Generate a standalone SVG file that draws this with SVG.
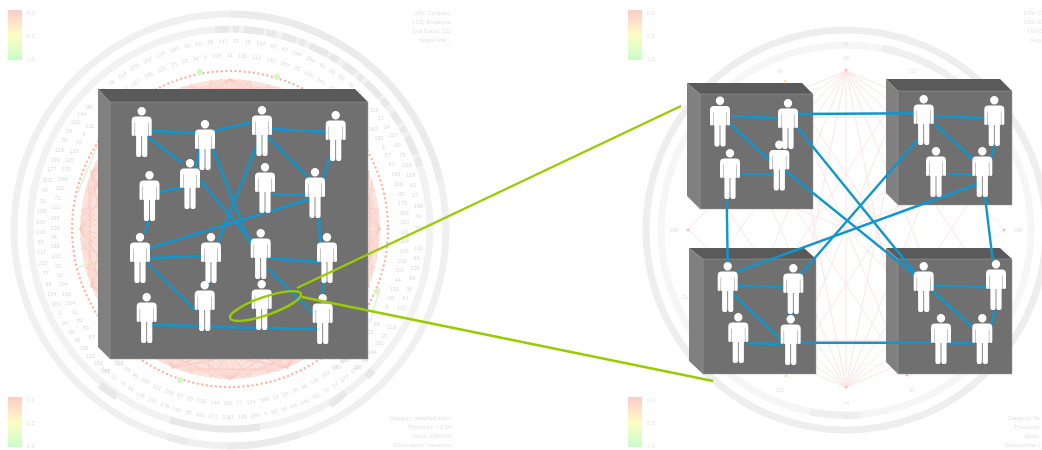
<svg xmlns="http://www.w3.org/2000/svg" width="1042" height="450" viewBox="0 0 1042 450">
<style>
.t{font-family:"Liberation Sans",Arial,sans-serif;font-size:5.5px;fill:#e2e2e2}
.n{font-family:"Liberation Sans",Arial,sans-serif;font-size:5.5px;fill:#dadada;text-anchor:middle}
.s{font-family:"Liberation Sans",Arial,sans-serif;font-size:16.5px;fill:#dadada;text-anchor:middle;dominant-baseline:central}
.top{fill:#5a5a5a}.left{fill:#808080}.front{fill:#707070;stroke:#9a9a9a;stroke-width:.5}
.c line{stroke:#0f96d0;stroke-width:2.4}
.g{fill:none;stroke:#99cc00;stroke-width:2.4}
.p{fill:#fff}
.ch{fill:none;stroke:#fac6bd;stroke-width:.55}
.ch2{fill:none;stroke:#fde6e3;stroke-width:1}
</style>
<defs>
<linearGradient id="lg" x1="0" y1="0" x2="0" y2="1"><stop offset="0" stop-color="#fdcaca"/><stop offset=".5" stop-color="#fffcc4"/><stop offset="1" stop-color="#c9fdc9"/></linearGradient>
<filter id="b1" x="-5%" y="-5%" width="110%" height="110%"><feGaussianBlur stdDeviation=".45"/></filter>
<filter id="b2" x="-5%" y="-5%" width="110%" height="110%"><feGaussianBlur stdDeviation=".3"/></filter>
<path id="a1" d="M44 229A186 186 0 0 1 416 229"/>
<path id="a2" d="M58 229A172 172 0 0 1 402 229"/>
<path id="a3" d="M40 229A190 190 0 0 0 420 229"/>
<path id="a4" d="M54 229A176 176 0 0 0 406 229"/>
<g id="fan">
<path class="ch" d="M230 79L80 229M230 79L100 304M230 79L155 359M230 79L305 359M230 79L360 304M230 79L380 229M230 79L330 117M230 79L130 117M230 79L90 172M230 79L370 172"/>
</g>
<path id="person" class="p" d="M-6 9.5H6Q10 9.500 10 13.500V27.500a1.500 1.500 0 0 1-3 0V15.500H6.600V29H5.600V47.500a2.600 2.600 0 0 1-5.200 0V29H-.4V47.500a2.600 2.600 0 0 1-5.200 0V29H-6.600V15.500H-7V27.500a1.500 1.500 0 0 1-3 0V13.500Q-10 9.500-6 9.500ZM4.200 4.200a4.200 4.200 0 1 1-8.400 0a4.200 4.200 0 1 1 8.400 0Z"/>
</defs>
<rect width="1042" height="450" fill="#fff"/>
<g id="chart-left" filter="url(#b1)">
<circle cx="230" cy="230" r="216" fill="none" stroke="#f0f0f0" stroke-width="7"/>
<circle cx="230" cy="229" r="200" fill="none" stroke="#f2f2f2" stroke-width="7"/>
<path d="M215 29.500A200 200 0 0 1 420 167" fill="none" stroke="#e9e9e9" stroke-width="7" stroke-dasharray="14 4 6 5 20 3 9 7"/>
<path d="M230 14A216 216 0 0 1 440 180" fill="none" stroke="#ebebeb" stroke-width="7"/>
<path d="M100 385A203 203 0 0 0 117 397M170 420A200 200 0 0 0 260 427M330 405A200 200 0 0 0 345 393M367 377A202 202 0 0 0 373 370" fill="none" stroke="#e8e8e8" stroke-width="7"/>
<path d="M167 436.600A216 216 0 0 0 187 441.700M227 446A216 216 0 0 0 300 434" fill="none" stroke="#ebebeb" stroke-width="7"/>
<circle cx="230" cy="229" r="150" fill="#fde3dd"/>
<use href="#fan"/><use href="#fan" transform="rotate(22.5 230 229)"/><use href="#fan" transform="rotate(45 230 229)"/><use href="#fan" transform="rotate(67.5 230 229)"/><use href="#fan" transform="rotate(90 230 229)"/><use href="#fan" transform="rotate(112.5 230 229)"/><use href="#fan" transform="rotate(135 230 229)"/><use href="#fan" transform="rotate(157.5 230 229)"/><use href="#fan" transform="rotate(180 230 229)"/><use href="#fan" transform="rotate(202.5 230 229)"/><use href="#fan" transform="rotate(225 230 229)"/><use href="#fan" transform="rotate(247.5 230 229)"/><use href="#fan" transform="rotate(270 230 229)"/><use href="#fan" transform="rotate(292.5 230 229)"/><use href="#fan" transform="rotate(315 230 229)"/><use href="#fan" transform="rotate(337.5 230 229)"/>
<circle cx="230" cy="229" r="158" fill="none" stroke="#f9b5a2" stroke-width="2.4" stroke-linecap="round" stroke-dasharray="0 4.6"/>
<path d="M78 192L97 147M78 268L98 258M370 322L380 288" fill="none" stroke="#d6f5c8" stroke-width="1.2"/>
<circle cx="200" cy="72" r="3" fill="#d8f5c4"/><circle cx="277" cy="77" r="3" fill="#d8f5c4"/><circle cx="180" cy="380" r="3" fill="#d8f5c4"/><circle cx="377" cy="292" r="3" fill="#d8f5c4"/>
<text class="n" word-spacing="3.8"><textPath href="#a1" startOffset="50%">102 78 214 173 152 126 103 65 50 16 147 67 18 187 69 43 144 184 46 26 92 39 29</textPath></text>
<text class="n" word-spacing="3.6"><textPath href="#a2" startOffset="50%">81 4 183 157 136 121 75 53 34 4 109 21 136 112 142 209 25 125 141 27 54 107</textPath></text>
<text class="n" word-spacing="2.6"><textPath href="#a3" startOffset="50%">147 12 74 86 115 132 178 191 99 100 171 2287 184 190 5 30 39 64 146 151 70 27 122 104</textPath></text>
<text class="n" word-spacing="2.6"><textPath href="#a4" startOffset="50%">162 69 96 107 131 158 87 20 125 140 196 77 174 189 13 93 78 85 149 102 25 59</textPath></text>
<g transform="scale(.33333)">
<text class="s" x="267" y="320">90</text><text class="s" x="245" y="342">144</text><text class="s" x="227" y="366">221</text><text class="s" x="270" y="378">211</text><text class="s" x="208" y="393">26</text><text class="s" x="252" y="402">8</text><text class="s" x="193" y="420">76</text><text class="s" x="237" y="427">43</text><text class="s" x="178" y="450">119</text><text class="s" x="222" y="453">110</text><text class="s" x="165" y="480">139</text><text class="s" x="208" y="480">120</text><text class="s" x="155" y="507">177</text><text class="s" x="198" y="507">175</text><text class="s" x="143" y="540">202</text><text class="s" x="188" y="537">196</text><text class="s" x="135" y="570">40</text><text class="s" x="180" y="565">203</text><text class="s" x="130" y="602">91</text><text class="s" x="173" y="595">72</text><text class="s" x="125" y="633">106</text><text class="s" x="168" y="622">101</text><text class="s" x="122" y="665">165</text><text class="s" x="165" y="653">163</text>
<text class="s" x="1122" y="330">124</text><text class="s" x="1142" y="354">31</text><text class="s" x="1160" y="380">14</text><text class="s" x="1120" y="388">167</text><text class="s" x="1180" y="405">127</text><text class="s" x="1137" y="413">182</text><text class="s" x="1193" y="435">90</text><text class="s" x="1150" y="440">3</text><text class="s" x="1163" y="466">57</text><text class="s" x="1207" y="465">79</text><text class="s" x="1175" y="493">47</text><text class="s" x="1220" y="495">213</text><text class="s" x="1187" y="522">169</text><text class="s" x="1232" y="525">129</text><text class="s" x="1195" y="552">109</text><text class="s" x="1240" y="555">62</text><text class="s" x="1203" y="582">45</text><text class="s" x="1245" y="585">17</text><text class="s" x="1208" y="608">179</text><text class="s" x="1255" y="617">168</text><text class="s" x="1213" y="638">183</text><text class="s" x="1255" y="648">49</text><text class="s" x="1215" y="667">110</text>
</g>
<g transform="translate(0 225) scale(.33333)">
<text class="s" x="122" y="20">216</text><text class="s" x="165" y="8">206</text><text class="s" x="122" y="52">95</text><text class="s" x="163" y="35">41</text><text class="s" x="125" y="82">217</text><text class="s" x="165" y="63">166</text><text class="s" x="130" y="115">223</text><text class="s" x="170" y="93">220</text><text class="s" x="137" y="145">77</text><text class="s" x="175" y="122">32</text><text class="s" x="145" y="177">99</text><text class="s" x="180" y="150">82</text><text class="s" x="155" y="207">114</text><text class="s" x="190" y="178">104</text><text class="s" x="168" y="237">300</text><text class="s" x="200" y="207">160</text><text class="s" x="180" y="263">1</text><text class="s" x="212" y="233">204</text><text class="s" x="195" y="293">24</text><text class="s" x="225" y="260">11</text><text class="s" x="213" y="320">58</text><text class="s" x="240" y="285">82</text><text class="s" x="232" y="346">46</text><text class="s" x="257" y="310">89</text><text class="s" x="252" y="368">108</text><text class="s" x="275" y="335">87</text><text class="s" x="272" y="393">118</text><text class="s" x="295" y="415">161</text><text class="s" x="318" y="438">205</text><text class="s" x="358" y="415">133</text>
<text class="s" x="1215" y="20">111</text><text class="s" x="1255" y="8">55</text><text class="s" x="1213" y="48">164</text><text class="s" x="1255" y="68">101</text><text class="s" x="1212" y="78">105</text><text class="s" x="1250" y="98">45</text><text class="s" x="1207" y="108">218</text><text class="s" x="1245" y="130">206</text><text class="s" x="1200" y="135">201</text><text class="s" x="1193" y="165">44</text><text class="s" x="1237" y="160">84</text><text class="s" x="1183" y="192">112</text><text class="s" x="1228" y="192">36</text><text class="s" x="1173" y="220">56</text><text class="s" x="1217" y="220">61</text><text class="s" x="1160" y="247">8</text><text class="s" x="1205" y="250">107</text><text class="s" x="1130" y="298">66</text><text class="s" x="1175" y="307">210</text><text class="s" x="1112" y="322">25</text><text class="s" x="1155" y="333">37</text><text class="s" x="1137" y="355">185</text><text class="s" x="1117" y="382">144</text><text class="s" x="1033" y="405">100</text><text class="s" x="1095" y="405">64</text><text class="s" x="1010" y="425">145</text><text class="s" x="1072" y="425">216</text>
</g>
<rect x="8" y="10" width="14" height="50" fill="url(#lg)"/><rect x="8" y="397" width="14" height="50" fill="url(#lg)"/>
<text class="t" x="27" y="15">0.0</text><text class="t" x="27" y="38">0.5</text><text class="t" x="27" y="61">1.0</text>
<text class="t" x="27" y="402">0.0</text><text class="t" x="27" y="425">0.5</text><text class="t" x="27" y="448">1.0</text>
<g text-anchor="end"><text class="t" x="451" y="15">LOV: Company</text><text class="t" x="451" y="24">LOS: Employee</text><text class="t" x="451" y="33">Unit Count: 221</text><text class="t" x="451" y="42">Single Link: -</text>
<text class="t" x="451" y="420">Category: weighted index</text><text class="t" x="451" y="429">Threshold: &gt; 0.04</text><text class="t" x="451" y="438">Value: 3269764</text><text class="t" x="451" y="447">Connections: maximum</text></g>
</g>
<g id="chart-right" filter="url(#b1)">
<circle cx="846" cy="230" r="200" fill="none" stroke="#eeeeee" stroke-width="7"/>
<circle cx="846" cy="230" r="185" fill="none" stroke="#f6f6f6" stroke-width="7"/>
<path d="M882 48A185 185 0 0 1 1000 128M810 412A185 185 0 0 0 860 415" fill="none" stroke="#efefef" stroke-width="7"/>
<path class="ch2" d="M846 71L906.5 375M846 71L957.7 340.7M846 71L992 289.500M846 71L1004 229M846 71L992 168.500M846 71L957.7 117.300M846 71L785.5 375M846 71L734.3 340.700M846 71L700 289.500M846 71L688 229M846 71L700 168.500M846 71L734.3 117.300M846 71V387M846 387L906.5 83M846 387L957.7 117.300M846 387L992 168.500M846 387L1004 229M846 387L992 289.500M846 387L957.7 340.700M846 387L785.5 83M846 387L734.3 117.300M846 387L700 168.500M846 387L688 229M846 387L700 289.500M846 387L734.3 340.700M700 168.500L992 289.500M700 289.500L992 168.500M734.3 117.300L957.7 340.700M734.3 340.700L957.700 117.300M785.5 83L906.5 375M785.5 375L906.5 83M734.3 117.300H957.700M734.3 340.700H957.700M785.5 83L957.7 340.700M906.5 83L734.3 340.700M785.5 375L957.7 117.300M906.5 375L734.3 117.300"/>
<circle cx="846" cy="70" r="1.5" fill="#fbb"/><circle cx="846" cy="387" r="1.5" fill="#fbb"/><circle cx="785" cy="81" r="1.5" fill="#fde3a8"/><circle cx="786" cy="376" r="1.5" fill="#fde3a8"/><circle cx="907" cy="375" r="1.5" fill="#fbb"/><circle cx="688" cy="230" r="1.5" fill="#fbb"/><circle cx="1004" cy="230" r="1.5" fill="#fbb"/>
<g class="t" text-anchor="middle"><text x="846" y="46">51</text><text x="846" y="60">15</text><text x="780" y="73">40</text><text x="912" y="73">215</text><text x="780" y="392">222</text><text x="912" y="392">91</text><text x="846" y="405">74</text><text x="846" y="419">33</text><text x="674" y="232">190</text><text x="1018" y="232">190</text><text x="685" y="299">21</text></g>
<rect x="628" y="10" width="14" height="50" fill="url(#lg)"/><rect x="628" y="397" width="14" height="50" fill="url(#lg)"/>
<text class="t" x="647" y="15">0.0</text><text class="t" x="647" y="38">0.5</text><text class="t" x="647" y="61">1.0</text>
<text class="t" x="647" y="402">0.0</text><text class="t" x="647" y="425">0.5</text><text class="t" x="647" y="448">1.0</text>
<text class="t" x="1024" y="15">LOV: C</text><text class="t" x="1024" y="24">LOS: E</text><text class="t" x="1028" y="33">Unit C</text><text class="t" x="1030" y="42">Sing</text>
<text class="t" x="1008" y="420">Category: Ne</text><text class="t" x="1014" y="429">Threshold:</text><text class="t" x="1024" y="438">Value:</text><text class="t" x="1005" y="447">Connections: r</text>
</g>
<g id="blocks" filter="url(#b2)">
<g id="block-main"><polygon class="top" points="98,89 355,89 368,102 110,102"/><polygon class="left" points="98,89 110,102 110,359 98,347"/><rect class="front" x="110" y="102" width="258" height="257"/></g>
<g id="block-a"><polygon class="top" points="687,83 802,83 813,94 700,94"/><polygon class="left" points="687,83 700,94 700,209 687,196"/><rect class="front" x="700" y="94" width="113" height="115"/></g>
<g id="block-b"><polygon class="top" points="886,79 1000,79 1012,91 898,91"/><polygon class="left" points="886,79 898,91 898,205 886,193"/><rect class="front" x="898" y="91" width="114" height="114"/></g>
<g id="block-c"><polygon class="top" points="689,248 804,248 816,259 703,259"/><polygon class="left" points="689,248 703,259 703,374 689,361"/><rect class="front" x="703" y="259" width="113" height="115"/></g>
<g id="block-d"><polygon class="top" points="886,248 1000,248 1012,259 898,259"/><polygon class="left" points="886,248 898,259 898,374 886,362"/><rect class="front" x="898" y="259" width="114" height="115"/></g>
</g>
<g id="connectors" class="c" filter="url(#b2)">
<line x1="152" y1="131" x2="197" y2="133"/><line x1="148" y1="137" x2="182" y2="163"/><line x1="200" y1="147" x2="195" y2="170"/><line x1="213" y1="131" x2="253" y2="122"/><line x1="272" y1="129" x2="327" y2="132"/><line x1="268" y1="137" x2="308" y2="177"/><line x1="330" y1="157" x2="323" y2="180"/><line x1="160" y1="192" x2="182" y2="187"/><line x1="272" y1="194" x2="307" y2="195"/><line x1="257" y1="145" x2="218" y2="242"/><line x1="213" y1="150" x2="250" y2="243"/><line x1="200" y1="180" x2="252" y2="242"/><line x1="310" y1="199" x2="150" y2="248"/><line x1="148" y1="221" x2="145" y2="233"/><line x1="319" y1="218" x2="320" y2="242"/><line x1="150" y1="258" x2="202" y2="256"/><line x1="147" y1="263" x2="195" y2="310"/><line x1="208" y1="280" x2="207" y2="288"/><line x1="267" y1="258" x2="320" y2="262"/><line x1="267" y1="268" x2="315" y2="315"/><line x1="323" y1="283" x2="322" y2="295"/><line x1="152" y1="325" x2="200" y2="326"/><line x1="210" y1="327" x2="320" y2="329"/>
<line x1="731" y1="116.300" x2="779" y2="118.300"/><line x1="730" y1="124" x2="770" y2="161"/><line x1="788" y1="133" x2="785" y2="150"/><line x1="740" y1="174.300" x2="773" y2="174.300"/><line x1="798" y1="114" x2="915" y2="113.300"/><line x1="934" y1="116" x2="985" y2="118.300"/><line x1="934" y1="123.300" x2="973" y2="159.300"/><line x1="995" y1="145" x2="990.7" y2="158.300"/><line x1="947" y1="174.300" x2="973" y2="174.300"/><line x1="797.7" y1="128" x2="916.7" y2="275"/><line x1="785.7" y1="171" x2="916" y2="276"/><line x1="919" y1="138.300" x2="800" y2="275"/><line x1="977.7" y1="184" x2="735" y2="272.300"/><line x1="726.7" y1="198" x2="727.7" y2="263"/><line x1="985" y1="196.700" x2="992.7" y2="260"/><line x1="738" y1="285.700" x2="785" y2="287.300"/><line x1="734" y1="295" x2="781.7" y2="340"/><line x1="794" y1="293" x2="792.7" y2="316"/><line x1="748" y1="343.300" x2="781.7" y2="344"/><line x1="799" y1="342.700" x2="931.7" y2="342.700"/><line x1="934" y1="285.700" x2="986.7" y2="287.300"/><line x1="933" y1="291" x2="973" y2="327.700"/><line x1="995" y1="309.300" x2="990.7" y2="326.700"/><line x1="948" y1="343.300" x2="973" y2="343.300"/>
</g>
<g id="people" filter="url(#b2)">
<g id="m1"><use href="#person" x="141.7" y="107"/></g><g id="m2"><use href="#person" x="205" y="120"/></g><g id="m3"><use href="#person" x="262" y="106"/></g><g id="m4"><use href="#person" x="335.7" y="111"/></g>
<g id="m5"><use href="#person" x="149.5" y="171"/></g><g id="m6"><use href="#person" x="190" y="159"/></g><g id="m7"><use href="#person" x="265" y="163"/></g><g id="m8"><use href="#person" x="315" y="168"/></g>
<g id="m9"><use href="#person" x="140" y="233"/></g><g id="m10"><use href="#person" x="211" y="233"/></g><g id="m11"><use href="#person" x="260.7" y="229"/></g><g id="m12"><use href="#person" x="327" y="233"/></g>
<g id="m13"><use href="#person" x="146.7" y="293"/></g><g id="m14"><use href="#person" x="204.7" y="281"/></g><g id="m15"><use href="#person" x="261.7" y="280"/></g><g id="m16"><use href="#person" x="322.7" y="294"/></g>
<g id="a-1"><use href="#person" x="720" y="96.500"/></g><g id="a-2"><use href="#person" x="788" y="99"/></g><g id="a-3"><use href="#person" x="730" y="149"/></g><g id="a-4"><use href="#person" x="779.3" y="140.500"/></g>
<g id="b-1"><use href="#person" x="923.7" y="95"/></g><g id="b-2"><use href="#person" x="994.3" y="96"/></g><g id="b-3"><use href="#person" x="936" y="147"/></g><g id="b-4"><use href="#person" x="982.3" y="147"/></g>
<g id="c-1"><use href="#person" x="727.7" y="262"/></g><g id="c-2"><use href="#person" x="793.3" y="264"/></g><g id="c-3"><use href="#person" x="738.3" y="313"/></g><g id="c-4"><use href="#person" x="790.7" y="315"/></g>
<g id="d-1"><use href="#person" x="923.7" y="262"/></g><g id="d-2"><use href="#person" x="996" y="260"/></g><g id="d-3"><use href="#person" x="941" y="314"/></g><g id="d-4"><use href="#person" x="982.3" y="314"/></g>
</g>
<g id="zoom-callout" filter="url(#b2)">
<ellipse class="g" cx="265.5" cy="306" rx="37.5" ry="9" transform="rotate(-19 265.5 306)"/>
<line class="g" x1="297" y1="288" x2="681" y2="106"/>
<line class="g" x1="302" y1="297" x2="713" y2="381"/>
</g>
</svg>
